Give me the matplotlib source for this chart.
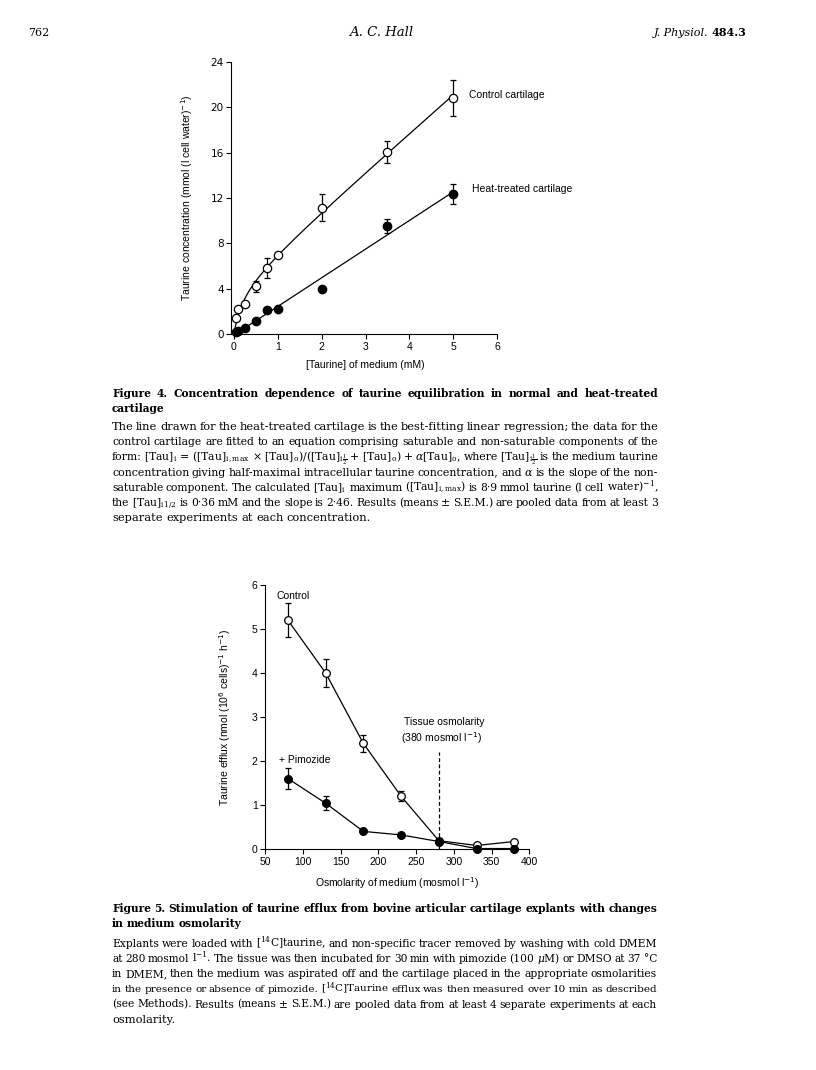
import numpy as np
import matplotlib
matplotlib.use("Agg")
import matplotlib.pyplot as plt

# ---- Figure 4: taurine uptake vs medium concentration
conc = [0.05, 0.1, 0.25, 0.5, 0.75, 1.0, 2.0, 3.5, 5.0]
control_tau = [1.45, 2.2, 2.65, 4.2, 5.8, 7.0, 11.15, 16.05, 20.85]
control_err = [0, 0, 0, 0.45, 0.9, 0, 1.2, 0.95, 1.6]
heat_tau = [0.2, 0.25, 0.5, 1.15, 2.15, 2.25, 4.0, 9.55, 12.35]
heat_err = [0, 0, 0, 0, 0, 0, 0, 0.6, 0.9]

# ---- Figure 5: taurine efflux vs osmolarity
osmol = [80, 130, 180, 230, 280, 330, 380]
control_efflux = [5.2, 4.0, 2.4, 1.2, 0.19, 0.08, 0.17]
control_efflux_err = [0.39, 0.32, 0.2, 0.11, 0.05, 0, 0]
pimo_efflux = [1.6, 1.04, 0.4, 0.32, 0.17, 0.01, 0.01]
pimo_efflux_err = [0.24, 0.16, 0, 0, 0, 0, 0]

W, H = 816, 1070
SANS = 'Liberation Sans'
SERIF = 'DejaVu Serif'

fig = plt.figure(figsize=(W / 100, H / 100), dpi=100)
fig.patch.set_facecolor('white')


def px_rect(l, t, r, b):
    return [l / W, 1 - b / H, (r - l) / W, (b - t) / H]


def style_axes(ax):
    for s in ['top', 'right']:
        ax.spines[s].set_visible(False)
    for s in ['left', 'bottom']:
        ax.spines[s].set_linewidth(0.8)
    ax.tick_params(direction='out', length=3.5, width=0.8, labelsize=7.5, pad=2)
    for lab in ax.get_xticklabels() + ax.get_yticklabels():
        lab.set_family(SANS)


def err_points(ax, x, y, e):
    x, y, e = np.array(x), np.array(y), np.array(e)
    m = e > 0
    ax.errorbar(x[m], y[m], yerr=e[m], fmt='none', ecolor='black',
                elinewidth=0.9, capsize=2.5, capthick=0.9, zorder=2, clip_on=False)


# ---------------- Figure 4 ----------------
ax4 = fig.add_axes(px_rect(234, 62, 497, 334))
x = np.array(conc)
yc = np.array(control_tau)
yh = np.array(heat_tau)

# control: saturable + non-saturable fit, K picked by least squares
best = None
for K in np.linspace(0.05, 3, 300):
    A = np.column_stack([x / (K + x), x])
    coef, res, _, _ = np.linalg.lstsq(A, yc, rcond=None)
    r = np.sum((A @ coef - yc) ** 2)
    if best is None or r < best[0]:
        best = (r, K, coef)
_, K, (Vmax, alpha) = best
xf = np.linspace(0, 5, 200)
ax4.plot(xf, Vmax * xf / (K + xf) + alpha * xf, color='black', lw=0.9, zorder=1)

# heat-treated: linear regression
slope, icpt = np.polyfit(x, yh, 1)
ax4.plot([0, 5], [icpt, icpt + slope * 5], color='black', lw=0.9, zorder=1)

err_points(ax4, conc, control_tau, control_err)
err_points(ax4, conc, heat_tau, heat_err)
ax4.plot(conc, control_tau, 'o', ms=6, mfc='white', mec='black', mew=0.9,
         ls='none', zorder=3, clip_on=False)
ax4.plot(conc, heat_tau, 'o', ms=6, mfc='black', mec='black',
         ls='none', zorder=3, clip_on=False)

ax4.set_xlim(0, 6)
ax4.set_ylim(0, 24)
ax4.set_xticks(range(0, 7))
ax4.set_yticks(range(0, 25, 4))
style_axes(ax4)
ax4.spines['left'].set_position(('outward', 2))
ax4.set_xlabel('[Taurine] of medium (mM)', family=SANS, fontsize=7.5)
ax4.set_ylabel('Taurine concentration (mmol (l cell water)$^{-1}$)',
               family=SANS, fontsize=7.5, math_fontfamily='dejavusans')
ax4.xaxis.set_label_coords(0.5, -0.095)
ax4.yaxis.set_label_coords(-0.148, 0.5)
ax4.text(5.36, 21.1, 'Control cartilage', family=SANS, fontsize=7.5, va='center')
ax4.text(5.44, 12.77, 'Heat-treated cartilage', family=SANS, fontsize=7.5, va='center')

# ---------------- Figure 5 ----------------
ax5 = fig.add_axes(px_rect(265.3, 585, 529.3, 849))
err_points(ax5, osmol, control_efflux, control_efflux_err)
err_points(ax5, osmol, pimo_efflux, pimo_efflux_err)
ax5.plot(osmol, control_efflux, '-o', color='black', lw=0.9, ms=5.5,
         mfc='white', mec='black', mew=0.9, zorder=3, clip_on=False)
ax5.plot(osmol, pimo_efflux, '-o', color='black', lw=0.9, ms=5.5,
         mfc='black', mec='black', zorder=3, clip_on=False)
ax5.plot([280, 280], [0, 2.2], color='black', lw=0.9, ls=(0, (3, 2)), zorder=1)

ax5.set_xlim(50, 400)
ax5.set_ylim(0, 6)
ax5.set_xticks(range(50, 401, 50))
ax5.set_yticks(range(0, 7))
style_axes(ax5)
ax5.set_xlabel('Osmolarity of medium (mosmol l$^{-1}$)', family=SANS, fontsize=7.5,
               math_fontfamily='dejavusans')
ax5.set_ylabel('Taurine efflux (nmol (10$^6$ cells)$^{-1}$ h$^{-1}$)', family=SANS,
               fontsize=7.5, math_fontfamily='dejavusans')
ax5.xaxis.set_label_coords(0.5, -0.098)
ax5.yaxis.set_label_coords(-0.122, 0.5)
ax5.text(65.5, 5.75, 'Control', family=SANS, fontsize=7.5, va='center')
ax5.text(68.2, 2.02, '+ Pimozide', family=SANS, fontsize=7.5, va='center')
ax5.text(287, 2.89, 'Tissue osmolarity', family=SANS, fontsize=7.5,
         ha='center', va='center')
ax5.text(284, 2.52, '(380 mosmol l$^{-1}$)', family=SANS, fontsize=7.5,
         ha='center', va='center', math_fontfamily='dejavusans')

# ---------------- page text ----------------
renderer = fig.canvas.get_renderer()


def put_line(text, y, x0=112, x1=658, size=8.2, weight='normal', justify=True):
    words = text.split()
    arts = [fig.text(0, 1 - y / H, w, fontsize=size, fontweight=weight, family=SERIF,
                     math_fontfamily='dejavuserif', va='baseline') for w in words]
    widths = [a.get_window_extent(renderer).width for a in arts]
    min_gap = size * 100 / 72 * 0.22
    room = x1 - x0 - min_gap * (len(words) - 1)
    if sum(widths) > room:
        size = size * room / sum(widths)
        for a in arts:
            a.set_fontsize(size)
        widths = [a.get_window_extent(renderer).width for a in arts]
    if justify and len(words) > 1:
        gap = (x1 - x0 - sum(widths)) / (len(words) - 1)
    else:
        gap = size * 100 / 72 * 0.3
    xx = x0
    for a, w in zip(arts, widths):
        a.set_x(xx / W)
        xx += w + gap


fig4_title = [
    'Figure 4. Concentration dependence of taurine equilibration in normal and heat-treated',
    'cartilage',
]
fig4_body = [
    'The line drawn for the heat-treated cartilage is the best-fitting linear regression; the data for the',
    'control cartilage are fitted to an equation comprising saturable and non-saturable components of the',
    r'form: [Tau]$_\mathrm{i}$ = ([Tau]$_\mathrm{i,max}$ $\times$ [Tau]$_\mathrm{o}$)/([Tau]$_{\mathrm{i}\frac{1}{2}}$'
    r' + [Tau]$_\mathrm{o}$) + $\alpha$[Tau]$_\mathrm{o}$, where [Tau]$_{\mathrm{i}\frac{1}{2}}$ is the medium taurine',
    r'concentration giving half-maximal intracellular taurine concentration, and $\alpha$ is the slope of the non-',
    r'saturable component. The calculated [Tau]$_\mathrm{i}$ maximum ([Tau]$_\mathrm{i,max}$) is 8·9 mmol taurine (l cell water)$^{-1}$,',
    r'the [Tau]$_\mathrm{i1/2}$ is 0·36 mM and the slope is 2·46. Results (means ± S.E.M.) are pooled data from at least 3',
    'separate experiments at each concentration.',
]
fig5_title = [
    'Figure 5. Stimulation of taurine efflux from bovine articular cartilage explants with changes',
    'in medium osmolarity',
]
fig5_body = [
    r'Explants were loaded with [$^{14}$C]taurine, and non-specific tracer removed by washing with cold DMEM',
    r'at 280 mosmol l$^{-1}$. The tissue was then incubated for 30 min with pimozide (100 $\mu$M) or DMSO at 37 °C',
    'in DMEM, then the medium was aspirated off and the cartilage placed in the appropriate osmolarities',
    r'in the presence or absence of pimozide. [$^{14}$C]Taurine efflux was then measured over 10 min as described',
    '(see Methods). Results (means ± S.E.M.) are pooled data from at least 4 separate experiments at each',
    'osmolarity.',
]

put_line(fig4_title[0], 396.7, size=7.7, weight='bold')
put_line(fig4_title[1], 411.7, size=7.7, weight='bold', justify=False)
for i, line in enumerate(fig4_body):
    put_line(line, 430 + 15.2 * i, justify=(i < len(fig4_body) - 1))

put_line(fig5_title[0], 912.3, x1=657, size=7.7, weight='bold')
put_line(fig5_title[1], 927.3, size=7.7, weight='bold', justify=False)
for i, line in enumerate(fig5_body):
    put_line(line, 946.7 + 15.2 * i, x1=657, justify=(i < len(fig5_body) - 1))

# running head
fig.text(28 / W, 1 - 36 / H, '762', family=SERIF, fontsize=8, va='baseline')
fig.text(381 / W, 1 - 36 / H, 'A. C. Hall', family=SERIF, fontsize=9.5,
         style='italic', ha='center', va='baseline')
t1 = fig.text(654 / W, 1 - 36 / H, 'J. Physiol.', family=SERIF, fontsize=8,
              style='italic', va='baseline')
w1 = t1.get_window_extent(renderer).width
fig.text((654 + w1 + 3) / W, 1 - 36 / H, '484.3', family=SERIF, fontsize=8,
         fontweight='bold', va='baseline')

fig.savefig('out.png', dpi=100, facecolor='white')
